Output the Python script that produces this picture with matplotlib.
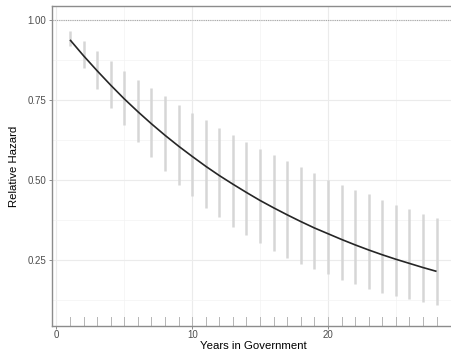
# -*- coding: utf-8 -*-

import numpy as np
import matplotlib
matplotlib.use("Agg")
import matplotlib.pyplot as plt


# years in government
years = list(range(1, 29))

# point estimate of the relative hazard
hazard = [0.939, 0.889, 0.842, 0.797, 0.754, 0.714, 0.676, 0.640, 0.606, 0.574,
          0.543, 0.514, 0.487, 0.461, 0.436, 0.413, 0.391, 0.370, 0.350, 0.332,
          0.314, 0.297, 0.281, 0.266, 0.252, 0.239, 0.226, 0.214]

# spread of the simulated values at each year
sim_low = [0.921, 0.851, 0.786, 0.726, 0.671, 0.619, 0.571, 0.527, 0.486, 0.449,
           0.413, 0.385, 0.354, 0.327, 0.302, 0.278, 0.257, 0.238, 0.220, 0.205,
           0.187, 0.173, 0.160, 0.147, 0.137, 0.127, 0.118, 0.108]
sim_high = [0.967, 0.936, 0.903, 0.873, 0.842, 0.814, 0.788, 0.762, 0.736, 0.710,
            0.687, 0.663, 0.640, 0.618, 0.598, 0.577, 0.559, 0.540, 0.523, 0.501,
            0.486, 0.470, 0.455, 0.439, 0.423, 0.410, 0.395, 0.382]

x_ticks = [0, 10, 20]
y_ticks = [0.25, 0.50, 0.75, 1.00]
y_labels = ["0.25", "0.50", "0.75", "1.00"]


def main():
    plt.rcParams["font.family"] = ["Liberation Sans", "DejaVu Sans"]

    fig = plt.figure(figsize=(4.51, 3.52), dpi=100)
    # right edge of the panel runs just past the figure, as in the reference
    ax = fig.add_axes([0.1146, 0.073, 0.894, 0.91])

    ax.set_xlim(-0.35, 29.35)
    ax.set_ylim(0.042, 1.045)

    # grid
    ax.set_xticks(x_ticks)
    ax.set_xticks([5, 15, 25], minor=True)
    ax.set_yticks(y_ticks)
    ax.set_yticklabels(y_labels)
    ax.set_yticks([0.125, 0.375, 0.625, 0.875], minor=True)
    ax.grid(True, which="major", color="#ebebeb", linewidth=0.8)
    ax.grid(True, which="minor", color="#f3f3f3", linewidth=0.5)
    ax.set_axisbelow(True)

    # reference line
    ax.axhline(1.0, color="#a8a8a8", linestyle=(0, (1, 1)), linewidth=0.8)

    # simulations
    ax.vlines(years, sim_low, sim_high, color="#d6d6d6", linewidth=1.8, zorder=2)

    # rug
    for x in years:
        ax.axvline(x, ymin=0.0, ymax=0.029, color="#b5b5b5", linewidth=0.7, zorder=2)

    # estimate
    ax.plot(years, hazard, color="#262626", linewidth=1.2, zorder=3,
            solid_capstyle="butt")

    for side in ["left", "bottom", "top", "right"]:
        ax.spines[side].set_color("#8c8c8c")
        ax.spines[side].set_linewidth(1.0)

    ax.tick_params(which="major", length=2.2, width=0.7, color="#8c8c8c",
                   labelsize=7, labelcolor="#4d4d4d")
    ax.tick_params(axis="y", pad=1.5)
    ax.tick_params(axis="x", pad=0.8)
    ax.tick_params(which="minor", length=0)

    ax.set_xlabel("Years in Government", fontsize=8.2, color="black", labelpad=0.5)
    ax.set_ylabel("Relative Hazard", fontsize=8.2, color="black", labelpad=6)

    fig.savefig("out.png", dpi=100)
    plt.close()


if __name__ == "__main__":
    main()
